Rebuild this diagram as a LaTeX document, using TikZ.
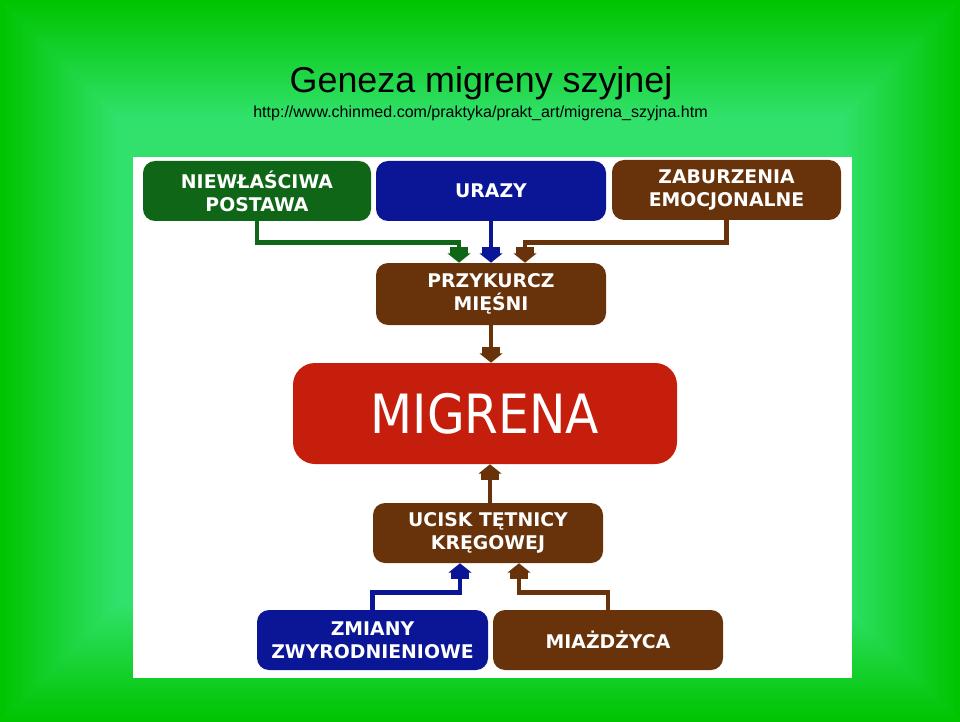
\documentclass[tikz,border=0pt]{standalone}
\usepackage{fontspec}
\setmainfont{Liberation Sans}
\newfontfamily\boxfont{DejaVu Sans}
\newfontfamily\bigfont[FakeStretch=0.9]{DejaVu Sans}
\usetikzlibrary{arrows.meta,positioning,calc}

\definecolor{bgout}{RGB}{0,196,0}
\definecolor{bgin}{RGB}{50,226,110}
\definecolor{grnbox}{RGB}{14,102,22}
\definecolor{bluebox}{RGB}{10,22,150}
\definecolor{brownbox}{RGB}{104,50,10}
\definecolor{redbox}{RGB}{198,30,12}

\newdimen\px
\px=0.025cm

\begin{document}
\begin{tikzpicture}[x=0.025cm, y=-0.025cm]
    \tikzstyle{cause} = [rectangle, rounded corners=12\px, minimum width=230\px, minimum height=60\px, text=white, align=center, font=\boxfont\bfseries\fontsize{13.4}{16.4}\selectfont]
    \tikzstyle{conn} = [line width=4.5\px, -{Rectangle[width=13pt, length=6pt, sep=-1.2pt] Triangle[width=16pt, length=6.6pt, sep=0pt]}]

    \useasboundingbox (0,0) rectangle (960,722);

    % background frame
    \foreach \k in {0,...,39} {
        \pgfmathsetmacro{\mixp}{\k*2.5}
        \fill [bgin!\mixp!bgout] (\k*3,\k*3) rectangle (960-\k*3,722-\k*3);
    }
    \fill [white] (133,157) rectangle (852,678);

    % title
    \node [anchor=base, font=\fontsize{25.5}{30}\selectfont] (title) at (481,93) {Geneza migreny szyjnej};
    \node [anchor=base, font=\fontsize{11.4}{14}\selectfont] (url) at (480.5,118) {http://www.chinmed.com/praktyka/prakt\_art/migrena\_szyjna.htm};

    % boxes
    \node [cause, fill=grnbox, minimum width=228\px] (postawa) at (257,191) {NIEWŁAŚCIWA\\POSTAWA};
    \node [cause, fill=bluebox] (urazy) at (491,191) {URAZY};
    \node [cause, fill=brownbox, minimum width=229\px] (emocje) at (726.5,190) {ZABURZENIA\\EMOCJONALNE};
    \node [cause, fill=brownbox, minimum height=62\px] (przykurcz) at (491,294) {PRZYKURCZ\\MIĘŚNI};
    \node [cause, fill=redbox, minimum width=384\px, minimum height=101\px, rounded corners=22\px, font=\bigfont\fontsize{38.5}{40}\selectfont] (migrena) at (485,413.5) {MIGRENA};
    \node [cause, fill=brownbox] (ucisk) at (488,533) {UCISK TĘTNICY\\KRĘGOWEJ};
    \node [cause, fill=bluebox, minimum width=231\px] (zmiany) at (372.5,640) {ZMIANY\\ZWYRODNIENIOWE};
    \node [cause, fill=brownbox] (miazdzyca) at (608,640) {MIAŻDŻYCA};

    % connectors
    \draw [conn, grnbox] (postawa.south) -- ++(0,21) -| ([xshift=-32\px]przykurcz.north);
    \draw [conn, bluebox] (urazy.south) -- (przykurcz.north);
    \draw [conn, brownbox] (emocje.south) -- ++(0,22) -| ([xshift=34\px]przykurcz.north);
    \draw [conn, brownbox] (przykurcz.south) -- (przykurcz.south |- migrena.north);
    \draw [conn, brownbox] ([xshift=2\px]ucisk.north) -- ([xshift=2\px]ucisk.north |- migrena.south);
    \draw [conn, bluebox] (zmiany.north) -- ++(0,-17) -| ([xshift=-28\px]ucisk.south);
    \draw [conn, brownbox] (miazdzyca.north) -- ++(0,-17) -| ([xshift=31\px]ucisk.south);
\end{tikzpicture}
\end{document}
